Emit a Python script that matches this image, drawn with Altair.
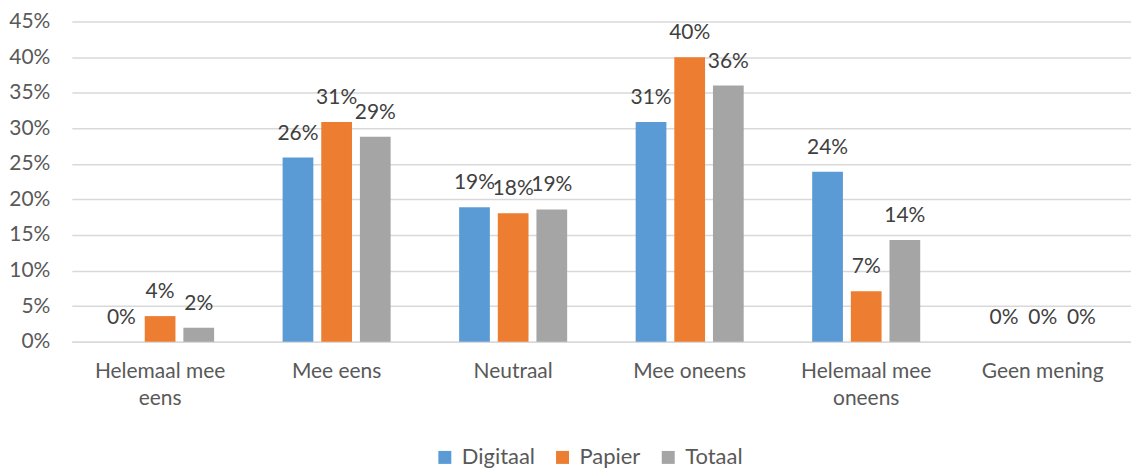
import altair as alt
import pandas as pd

categories = ["Helemaal mee eens", "Mee eens", "Neutraal", "Mee oneens", "Helemaal mee oneens", "Geen mening"]
series = ["Digitaal", "Papier", "Totaal"]
digitaal = [0.0, 25.9, 18.9, 30.9, 23.9, 0.0]
papier = [3.6, 30.9, 18.05, 40.0, 7.1, 0.0]
totaal = [1.95, 28.8, 18.6, 36.0, 14.3, 0.0]
colors = ["#5B9BD5", "#ED7D31", "#A5A5A5"]

rows = []
for s, vals in zip(series, [digitaal, papier, totaal]):
    for c, v in zip(categories, vals):
        rows.append({"categorie": c, "reeks": s, "waarde": v})
df = pd.DataFrame(rows)

FONT = "Lato"
FS = 21

x_enc = alt.X(
    "categorie:N",
    sort=categories,
    scale=alt.Scale(paddingInner=0.388, paddingOuter=0.194),
    axis=alt.Axis(
        title=None,
        labelAngle=0,
        labelFont=FONT,
        labelFontSize=FS,
        labelColor="#595959",
        labelPadding=19,
        labelLineHeight=27,
        labelExpr="datum.label == 'Helemaal mee eens' ? ['Helemaal mee', 'eens'] : datum.label == 'Helemaal mee oneens' ? ['Helemaal mee', 'oneens'] : datum.label",
        ticks=False,
        domainColor="#D9D9D9",
        domainWidth=1.5,
        grid=False,
    ),
)
xoff = alt.XOffset("reeks:N", sort=series, scale=alt.Scale(paddingInner=0.205, paddingOuter=0))
y_enc = alt.Y(
    "waarde:Q",
    scale=alt.Scale(domain=[0, 45], nice=False),
    axis=alt.Axis(
        title=None,
        values=[0, 5, 10, 15, 20, 25, 30, 35, 40, 45],
        labelExpr="datum.value + '%'",
        labelFont=FONT,
        labelFontSize=FS,
        labelColor="#595959",
        labelPadding=22,
        ticks=False,
        domain=False,
        gridColor="#D9D9D9",
        gridWidth=1.5,
    ),
)
color_enc = alt.Color(
    "reeks:N",
    sort=series,
    scale=alt.Scale(domain=series, range=colors),
    legend=alt.Legend(
        title=None,
        orient="none",
        direction="horizontal",
        legendX=363,
        legendY=426,
        symbolType="square",
        symbolSize=169,
        symbolStrokeWidth=0,
        labelFont=FONT,
        labelFontSize=22,
        labelColor="#595959",
        labelOffset=6,
        columnPadding=16,
    ),
)

base = alt.Chart(df)
bars = base.mark_bar().encode(x=x_enc, xOffset=xoff, y=y_enc, color=color_enc)
labels = base.transform_calculate(
    lab="round(datum.waarde) + '%'"
).mark_text(
    font=FONT, fontSize=FS, color="#404040", baseline="alphabetic", dy=-18
).encode(x=x_enc, xOffset=xoff, y=y_enc, text="lab:N")

chart = alt.layer(bars, labels).properties(
    width=1062, height=321, padding={"left": 0, "top": 2, "right": 0, "bottom": 0}
).configure_view(stroke=None)

chart.save("out.html", embed_options={"renderer": "svg", "actions": False})
